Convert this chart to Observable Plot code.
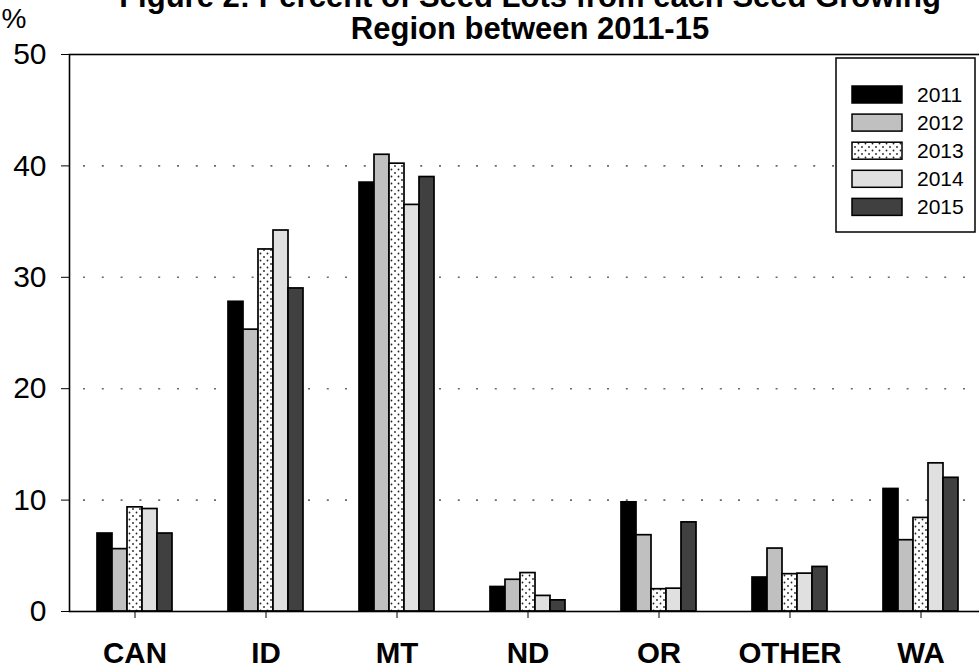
<!DOCTYPE html>
<html>
<head>
<meta charset="utf-8">
<script src="https://cdn.jsdelivr.net/npm/d3@7"></script>
<script src="https://cdn.jsdelivr.net/npm/@observablehq/plot@0.6"></script>
<style>
  html, body { margin: 0; padding: 0; background: #fff; overflow: hidden; }
  #wrap { position: relative; width: 979px; height: 668px; overflow: hidden; }
  #wrap svg { position: absolute; left: 0; top: 0; max-width: none !important; }
</style>
</head>
<body>
<div id="wrap"></div>
<script>
// ---- data ----
const regions = ["CAN", "ID", "MT", "ND", "OR", "OTHER", "WA"];
const years = ["2011", "2012", "2013", "2014", "2015"];
const v2011 = [7.0, 27.8, 38.5, 2.2, 9.8, 3.05, 11.0];
const v2012 = [5.6, 25.3, 41.0, 2.85, 6.85, 5.65, 6.4];
const v2013 = [9.35, 32.5, 40.2, 3.45, 2.0, 3.35, 8.4];
const v2014 = [9.2, 34.2, 36.5, 1.4, 2.05, 3.4, 13.3];
const v2015 = [7.0, 29.0, 39.0, 1.0, 8.0, 4.0, 12.0];
const yTicks = [0, 10, 20, 30, 40, 50];
const gridTicks = [10, 20, 30, 40];
const yearFills = ["#000000", "#c0c0c0", "url(#dots)", "#e0e0e0", "#404040"];
const titleLines = ["Figure 2: Percent of Seed Lots from each Seed Growing", "Region between 2011-15"];
const yUnit = "%";

const series = [v2011, v2012, v2013, v2014, v2015];
const data = [];
years.forEach((yr, i) => regions.forEach((r, j) => data.push({region: r, year: yr, value: series[i][j]})));

const FONT = "'Liberation Sans', Arial, sans-serif";
const wrap = document.getElementById("wrap");

// pattern definitions
const defs = d3.select(wrap).append("svg").attr("width", 0).attr("height", 0);
const pat = defs.append("defs").append("pattern")
  .attr("id", "dots").attr("patternUnits", "userSpaceOnUse")
  .attr("width", 7).attr("height", 7);
pat.append("rect").attr("width", 7).attr("height", 7).attr("fill", "#ffffff");
pat.append("circle").attr("cx", 1.5).attr("cy", 1.5).attr("r", 0.9).attr("fill", "#222");
pat.append("circle").attr("cx", 5).attr("cy", 5).attr("r", 0.9).attr("fill", "#222");

const chart = Plot.plot({
  width: 990,
  height: 668,
  marginLeft: 67,
  marginRight: 2,
  marginTop: 54,
  marginBottom: 57,
  style: {fontFamily: FONT, color: "#000", background: "transparent", overflow: "visible", maxWidth: "none"},
  fx: {domain: regions, padding: 0, label: null},
  x: {domain: years, paddingInner: 0, paddingOuter: 1.665, axis: null},
  y: {domain: [0, 50], label: null},
  color: {domain: years, range: yearFills},
  marks: [
    Plot.gridY(gridTicks, {stroke: "#6a6a6a", strokeOpacity: 1, strokeWidth: 1.6, strokeDasharray: "2,16.8", strokeDashoffset: 4.8}),
    Plot.barY(data, {fx: "region", x: "year", y: "value", fill: "year", stroke: "#000", strokeWidth: 1.7}),
    Plot.frame({facet: "super", stroke: "#000", strokeWidth: 1.6}),
    Plot.axisY({ticks: yTicks, tickSize: 8, tickPadding: 15, fontSize: 30, label: null}),
    Plot.axisFx({anchor: "bottom", tickSize: 7, tickPadding: 24, fontSize: 29.5, fontWeight: "bold", label: null})
  ]
});
wrap.appendChild(chart);

// overlay: title, unit, legend
const ov = d3.select(wrap).append("svg").attr("width", 979).attr("height", 668)
  .style("font-family", FONT);
const titleY = [7, 39];
titleLines.forEach((t, i) => {
  ov.append("text").attr("x", 530).attr("y", titleY[i]).attr("text-anchor", "middle")
    .attr("font-size", 31).attr("font-weight", "bold").text(t);
});
ov.append("text").attr("x", 14).attr("y", 28).attr("text-anchor", "middle")
  .attr("font-size", 28).text(yUnit);

const lg = ov.append("g").attr("transform", "translate(836,58)");
lg.append("rect").attr("width", 139).attr("height", 174).attr("fill", "#fff")
  .attr("stroke", "#000").attr("stroke-width", 1.5);
years.forEach((yr, i) => {
  const cy = 36.5 + i * 28.1;
  lg.append("rect").attr("x", 16).attr("y", cy - 8.5).attr("width", 50).attr("height", 17)
    .attr("fill", yearFills[i]).attr("stroke", "#000").attr("stroke-width", 1.5);
  lg.append("text").attr("x", 81).attr("y", cy).attr("dy", "0.36em")
    .attr("font-size", 21).text(yr);
});
</script>
</body>
</html>
